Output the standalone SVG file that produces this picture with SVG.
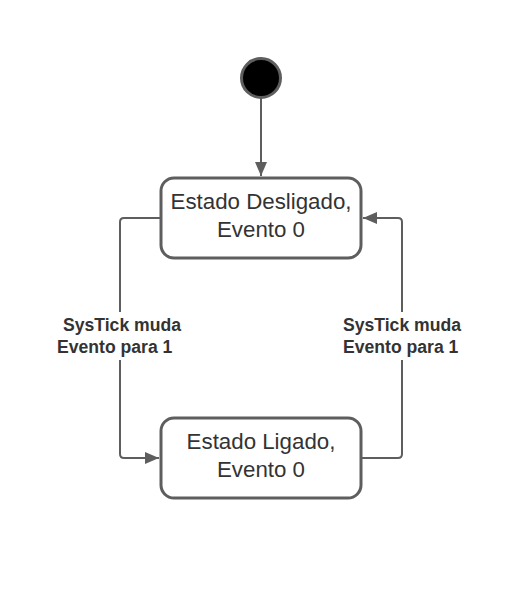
<svg xmlns="http://www.w3.org/2000/svg" width="526" height="592" viewBox="0 0 526 592">
<style>
.box{fill:#fff;stroke:#5e5e5e;stroke-width:3}
.t{font-family:"Liberation Sans",Arial,sans-serif;font-size:22.3px;fill:#333;text-anchor:middle}
.l{font-family:"Liberation Sans",Arial,sans-serif;font-size:17.6px;font-weight:bold;fill:#333}
.c{fill:none;stroke:#5e5e5e;stroke-width:2}
</style>
<defs>
<marker id="a" viewBox="0 0 14 12" refX="14" refY="6" markerWidth="14" markerHeight="12" markerUnits="userSpaceOnUse" orient="auto">
<path d="M0,0 L14,6 L0,12 Z" fill="#5e5e5e"/>
</marker>
</defs>
<rect width="526" height="592" fill="#fff"/>
<g id="connectors">
<path class="c" d="M261,98 V176" marker-end="url(#a)"/>
<path class="c" d="M160,218 H124 Q120,218 120,222 V454 Q120,458 124,458 H159" marker-end="url(#a)"/>
<path class="c" d="M362,458 H398 Q402,458 402,454 V222 Q402,218 398,218 H363" marker-end="url(#a)"/>
<rect x="55" y="312" width="130" height="48" fill="#fff"/>
<rect x="338" y="312" width="130" height="48" fill="#fff"/>
<text class="l" x="63" y="331">SysTick muda</text>
<text class="l" x="57" y="353">Evento para 1</text>
<text class="l" x="343" y="331">SysTick muda</text>
<text class="l" x="343" y="353">Evento para 1</text>
</g>
<g id="start">
<circle cx="261" cy="78" r="19.5" fill="#000" stroke="#5e5e5e" stroke-width="3"/>
</g>
<g id="desligado">
<rect class="box" x="161" y="178" width="200" height="80" rx="13"/>
<text class="t" x="261" y="209">Estado Desligado,</text>
<text class="t" x="261" y="237">Evento 0</text>
</g>
<g id="ligado">
<rect class="box" x="161" y="418" width="200" height="80" rx="13"/>
<text class="t" x="261" y="449">Estado Ligado,</text>
<text class="t" x="261" y="477">Evento 0</text>
</g>
</svg>
